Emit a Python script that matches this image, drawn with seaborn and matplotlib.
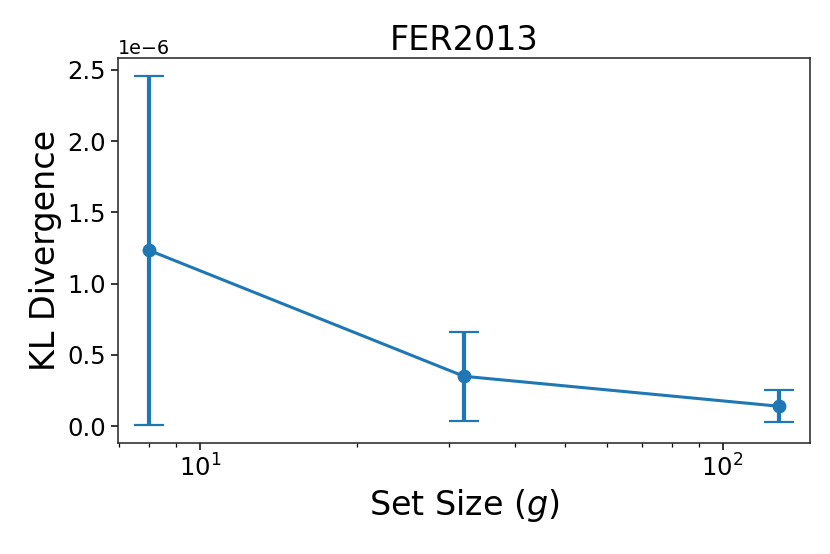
import matplotlib
matplotlib.use("Agg")
import matplotlib.pyplot as plt
import numpy as np
import pandas as pd
import seaborn as sns

sns.set_style("ticks")
plt.rcParams["font.family"] = ["DejaVu Sans"]
plt.rcParams["text.color"] = "black"
plt.rcParams["axes.labelcolor"] = "black"
plt.rcParams["xtick.color"] = "black"
plt.rcParams["ytick.color"] = "black"

set_sizes = [8, 32, 128]
kl_mean = [1.233e-6, 0.350e-6, 0.140e-6]
kl_err = [1.226e-6, 0.313e-6, 0.112e-6]

df = pd.DataFrame({"g": set_sizes, "kl": kl_mean, "err": kl_err})
color = "#1f77b4"

fig = plt.figure(figsize=(8.3, 5.54), dpi=100)
ax = fig.add_axes([0.142, 0.201, 0.834, 0.694])

ax.errorbar(df["g"], df["kl"], yerr=df["err"], fmt="none", ecolor=color,
            elinewidth=3, capsize=11, capthick=1.6)
sns.lineplot(data=df, x="g", y="kl", ax=ax, color=color, linewidth=2.2,
             marker="o", markersize=10, markeredgewidth=0)

ax.set_xscale("log")
ax.set_title("FER2013", fontsize=24)
ax.set_xlabel("Set Size ($g$)", fontsize=24)
ax.set_ylabel("KL Divergence", fontsize=24)
ax.tick_params(axis="both", which="major", labelsize=17.5, length=5, width=1.1, color="k")
ax.tick_params(axis="x", which="minor", length=3, width=0.9, color="k")
ax.yaxis.get_offset_text().set_fontsize(13.8)
for s in ax.spines.values():
    s.set_color("#222222")
    s.set_linewidth(1.1)

fig.savefig("out.png", dpi=100)
